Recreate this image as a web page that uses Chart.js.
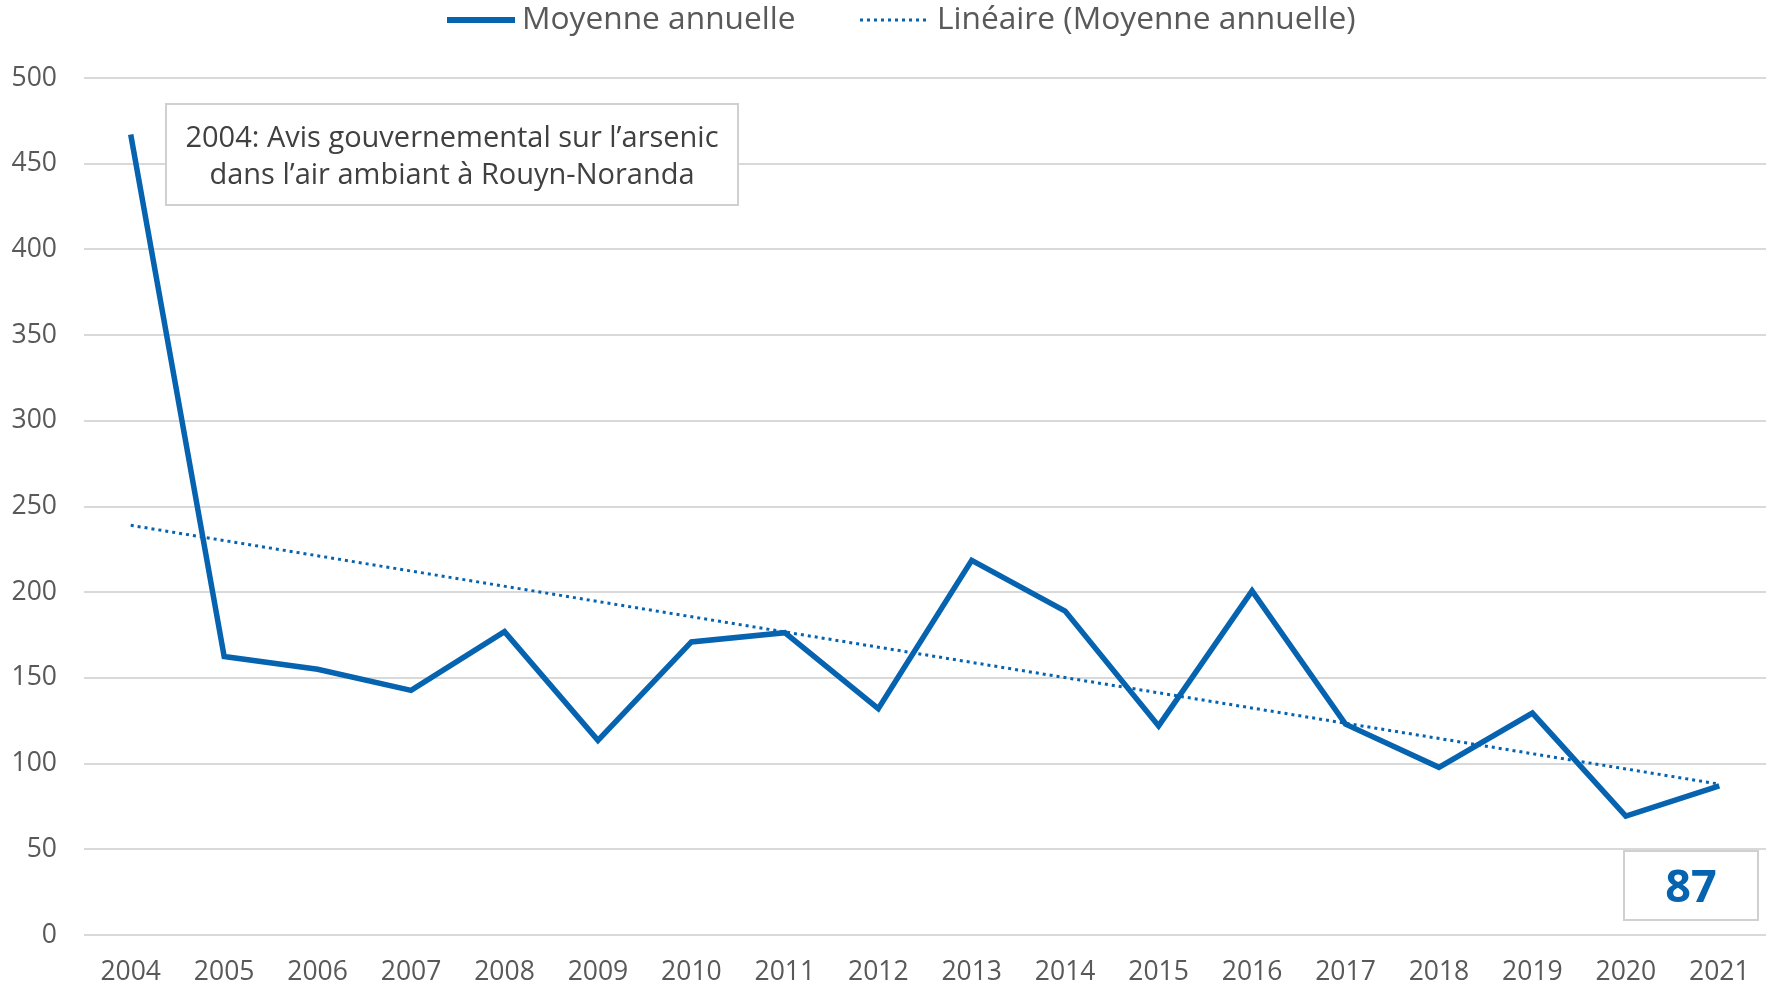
<!DOCTYPE html>
<html><head><meta charset="utf-8">
<script src="https://cdn.jsdelivr.net/npm/chart.js@4.4.0/dist/chart.umd.min.js"></script>
<style>html,body{margin:0;padding:0;background:#fff;} #wrap{width:1775px;height:986px;}</style>
</head><body><div id="wrap"><canvas id="c" width="1775" height="986"></canvas></div>
<script>
const years = ['2004','2005','2006','2007','2008','2009','2010','2011','2012','2013','2014','2015','2016','2017','2018','2019','2020','2021'];
const annualMean = [467,162.5,155,142.7,177,113.6,171,176.4,132,218.6,189,122,200.8,123,97.8,129.5,69.4,87];
const trendLine = [239,null,null,null,null,null,null,null,null,null,null,null,null,null,null,null,null,88];
const seriesLabels = ['Moyenne annuelle','Linéaire (Moyenne annuelle)'];
const yMin = 0, yMax = 500, yStep = 50;
const noteLines = ['2004: Avis gouvernemental sur l’arsenic','dans l’air ambiant à Rouyn-Noranda'];
const lastValueLabel = '87';

const BLUE = '#0563b0';
const GREY = '#595959';
const FONT = '"Open Sans", sans-serif';

const customLegend = {
  id: 'customLegend',
  afterDraw(chart) {
    const ctx = chart.ctx;
    const ds = chart.data.datasets;
    ctx.save();
    ctx.font = '31.7px ' + FONT;
    ctx.textBaseline = 'middle';
    ctx.fillStyle = GREY;
    const y = 20;
    ctx.strokeStyle = ds[0].borderColor;
    ctx.lineWidth = 6;
    ctx.setLineDash([]);
    ctx.beginPath(); ctx.moveTo(447, y); ctx.lineTo(515, y); ctx.stroke();
    ctx.textAlign = 'left';
    ctx.fillText(ds[0].label, 522, y);
    ctx.strokeStyle = ds[1].borderColor;
    ctx.lineWidth = 3;
    ctx.setLineDash([3, 4]);
    ctx.beginPath(); ctx.moveTo(860, y); ctx.lineTo(930, y); ctx.stroke();
    ctx.setLineDash([]);
    ctx.fillText(ds[1].label, 937, y);
    ctx.restore();
  }
};

const notes = {
  id: 'notes',
  afterDraw(chart) {
    const ctx = chart.ctx;
    const ca = chart.chartArea;
    ctx.save();
    const bx = ca.left + 82, by = ca.top + 26, bw = 572, bh = 101;
    ctx.fillStyle = '#fff';
    ctx.fillRect(bx, by, bw, bh);
    ctx.strokeStyle = '#d0d0d0';
    ctx.lineWidth = 2;
    ctx.strokeRect(bx, by, bw, bh);
    ctx.fillStyle = '#404040';
    ctx.font = '29px ' + FONT;
    ctx.textAlign = 'center';
    ctx.textBaseline = 'middle';
    ctx.fillText(noteLines[0], bx + bw / 2, by + 35);
    ctx.fillText(noteLines[1], bx + bw / 2, by + 72);
    const vx = ca.right - 142, vy = ca.bottom - 84, vw = 134, vh = 69;
    ctx.fillStyle = '#fff';
    ctx.fillRect(vx, vy, vw, vh);
    ctx.strokeStyle = '#d0d0d0';
    ctx.strokeRect(vx, vy, vw, vh);
    ctx.fillStyle = BLUE;
    ctx.font = 'bold 45px ' + FONT;
    ctx.fillText(lastValueLabel, vx + vw / 2, vy + vh / 2 + 4);
    ctx.restore();
  }
};

new Chart(document.getElementById('c'), {
  type: 'line',
  data: {
    labels: years,
    datasets: [
      { label: seriesLabels[0], data: annualMean, borderColor: BLUE, backgroundColor: BLUE, borderWidth: 5.5, pointRadius: 0, tension: 0, borderJoinStyle: 'miter' },
      { label: seriesLabels[1], data: trendLine, borderColor: BLUE, backgroundColor: BLUE, borderWidth: 3, borderDash: [3, 4], pointRadius: 0, spanGaps: true }
    ]
  },
  options: {
    responsive: false,
    devicePixelRatio: 1,
    animation: false,
    layout: { padding: { top: 78, right: 9, left: 0, bottom: 0 } },
    plugins: { legend: { display: false }, tooltip: { enabled: false } },
    scales: {
      x: {
        offset: true,
        grid: { display: false, drawTicks: false },
        border: { display: false },
        ticks: { color: GREY, font: { family: FONT, size: 26.5 }, padding: 22, maxRotation: 0, autoSkip: false },
        afterFit(s) { s.height = 51; }
      },
      y: {
        min: yMin, max: yMax,
        grid: { color: '#d9d9d9', lineWidth: 2, drawTicks: false },
        border: { display: false },
        ticks: { stepSize: yStep, color: GREY, font: { family: FONT, size: 26.5 }, padding: 27 },
        afterFit(s) { s.width = 84; }
      }
    }
  },
  plugins: [customLegend, notes]
});
</script></body></html>
